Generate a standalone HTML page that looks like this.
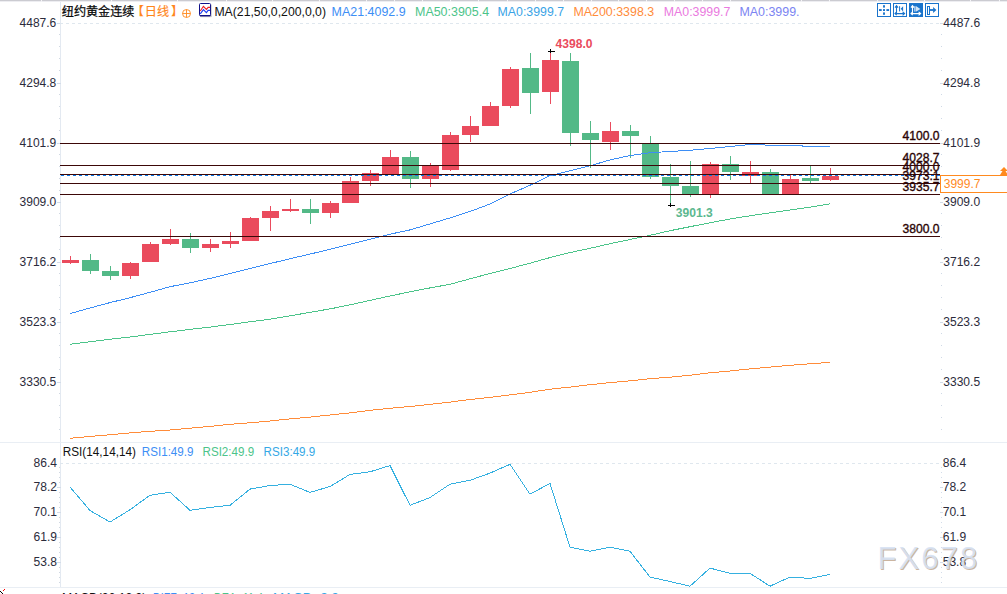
<!DOCTYPE html><html><head><meta charset="utf-8"><title>chart</title><style>html,body{margin:0;padding:0;background:#fff;overflow:hidden}body{width:1007px;height:594px}</style></head><body><svg width="1007" height="594" viewBox="0 0 1007 594" style="display:block;font-family:'Liberation Sans',sans-serif">
<rect width="1007" height="594" fill="#fff"/>
<g shape-rendering="crispEdges">
<rect x="0" y="0" width="1007" height="1" fill="#cbcbd1"/>
<rect x="0" y="1" width="1007" height="1" fill="#ededf1"/>
<rect x="41" y="0" width="1" height="2" fill="#f4f4f7"/>
<rect x="111" y="0" width="1" height="2" fill="#f4f4f7"/>
<rect x="177" y="0" width="1" height="2" fill="#f4f4f7"/>
<rect x="226" y="0" width="1" height="2" fill="#f4f4f7"/>
<rect x="272" y="0" width="1" height="2" fill="#f4f4f7"/>
<rect x="319" y="0" width="1" height="2" fill="#f4f4f7"/>
<rect x="366" y="0" width="1" height="2" fill="#f4f4f7"/>
<rect x="394" y="0" width="1" height="2" fill="#f4f4f7"/>
<rect x="422" y="0" width="1" height="2" fill="#f4f4f7"/>
<rect x="450" y="0" width="1" height="2" fill="#f4f4f7"/>
<rect x="478" y="0" width="1" height="2" fill="#f4f4f7"/>
<rect x="507" y="0" width="1" height="2" fill="#f4f4f7"/>
<rect x="535" y="0" width="1" height="2" fill="#f4f4f7"/>
<rect x="563" y="0" width="1" height="2" fill="#f4f4f7"/>
<rect x="591" y="0" width="1" height="2" fill="#f4f4f7"/>
<rect x="618" y="0" width="1" height="2" fill="#f4f4f7"/>
<rect x="646" y="0" width="1" height="2" fill="#f4f4f7"/>
<rect x="674" y="0" width="1" height="2" fill="#f4f4f7"/>
<rect x="702" y="0" width="1" height="2" fill="#f4f4f7"/>
<rect x="730" y="0" width="1" height="2" fill="#f4f4f7"/>
<rect x="801" y="0" width="1" height="2" fill="#f4f4f7"/>
<rect x="829" y="0" width="1" height="2" fill="#f4f4f7"/>
<rect x="877" y="0" width="1" height="2" fill="#f4f4f7"/>
<rect x="924" y="0" width="1" height="2" fill="#f4f4f7"/>
<rect x="970" y="0" width="1" height="2" fill="#f4f4f7"/>
<rect x="999" y="0" width="1" height="2" fill="#f4f4f7"/>
<rect x="60" y="2" width="1" height="441" fill="#e3e9f1"/>
<rect x="60" y="443" width="1" height="145" fill="#e3e9f1"/>
<rect x="0" y="442" width="1007" height="1" fill="#e9eef4"/>
<rect x="0" y="587" width="1007" height="1" fill="#e9eef4"/>
<rect x="57" y="23" width="4" height="1" fill="#d3dce8"/>
<rect x="940" y="23" width="3" height="1" fill="#d3dce8"/>
<rect x="59" y="34" width="1" height="1" fill="#d0d8e2"/>
<rect x="941" y="34" width="1" height="1" fill="#cfd9e6"/>
<rect x="59" y="46" width="1" height="1" fill="#d0d8e2"/>
<rect x="941" y="46" width="1" height="1" fill="#cfd9e6"/>
<rect x="59" y="58" width="1" height="1" fill="#d0d8e2"/>
<rect x="941" y="58" width="1" height="1" fill="#cfd9e6"/>
<rect x="59" y="70" width="1" height="1" fill="#d0d8e2"/>
<rect x="941" y="70" width="1" height="1" fill="#cfd9e6"/>
<rect x="57" y="83" width="4" height="1" fill="#d3dce8"/>
<rect x="940" y="83" width="3" height="1" fill="#d3dce8"/>
<rect x="59" y="94" width="1" height="1" fill="#d0d8e2"/>
<rect x="941" y="94" width="1" height="1" fill="#cfd9e6"/>
<rect x="59" y="106" width="1" height="1" fill="#d0d8e2"/>
<rect x="941" y="106" width="1" height="1" fill="#cfd9e6"/>
<rect x="59" y="118" width="1" height="1" fill="#d0d8e2"/>
<rect x="941" y="118" width="1" height="1" fill="#cfd9e6"/>
<rect x="59" y="130" width="1" height="1" fill="#d0d8e2"/>
<rect x="941" y="130" width="1" height="1" fill="#cfd9e6"/>
<rect x="57" y="143" width="4" height="1" fill="#d3dce8"/>
<rect x="940" y="143" width="3" height="1" fill="#d3dce8"/>
<rect x="59" y="154" width="1" height="1" fill="#d0d8e2"/>
<rect x="941" y="154" width="1" height="1" fill="#cfd9e6"/>
<rect x="59" y="166" width="1" height="1" fill="#d0d8e2"/>
<rect x="941" y="166" width="1" height="1" fill="#cfd9e6"/>
<rect x="59" y="178" width="1" height="1" fill="#d0d8e2"/>
<rect x="941" y="178" width="1" height="1" fill="#cfd9e6"/>
<rect x="59" y="190" width="1" height="1" fill="#d0d8e2"/>
<rect x="941" y="190" width="1" height="1" fill="#cfd9e6"/>
<rect x="57" y="202" width="4" height="1" fill="#d3dce8"/>
<rect x="940" y="202" width="3" height="1" fill="#d3dce8"/>
<rect x="59" y="213" width="1" height="1" fill="#d0d8e2"/>
<rect x="941" y="213" width="1" height="1" fill="#cfd9e6"/>
<rect x="59" y="225" width="1" height="1" fill="#d0d8e2"/>
<rect x="941" y="225" width="1" height="1" fill="#cfd9e6"/>
<rect x="59" y="237" width="1" height="1" fill="#d0d8e2"/>
<rect x="941" y="237" width="1" height="1" fill="#cfd9e6"/>
<rect x="59" y="249" width="1" height="1" fill="#d0d8e2"/>
<rect x="941" y="249" width="1" height="1" fill="#cfd9e6"/>
<rect x="57" y="262" width="4" height="1" fill="#d3dce8"/>
<rect x="940" y="262" width="3" height="1" fill="#d3dce8"/>
<rect x="59" y="273" width="1" height="1" fill="#d0d8e2"/>
<rect x="941" y="273" width="1" height="1" fill="#cfd9e6"/>
<rect x="59" y="285" width="1" height="1" fill="#d0d8e2"/>
<rect x="941" y="285" width="1" height="1" fill="#cfd9e6"/>
<rect x="59" y="297" width="1" height="1" fill="#d0d8e2"/>
<rect x="941" y="297" width="1" height="1" fill="#cfd9e6"/>
<rect x="59" y="309" width="1" height="1" fill="#d0d8e2"/>
<rect x="941" y="309" width="1" height="1" fill="#cfd9e6"/>
<rect x="57" y="322" width="4" height="1" fill="#d3dce8"/>
<rect x="940" y="322" width="3" height="1" fill="#d3dce8"/>
<rect x="59" y="333" width="1" height="1" fill="#d0d8e2"/>
<rect x="941" y="333" width="1" height="1" fill="#cfd9e6"/>
<rect x="59" y="345" width="1" height="1" fill="#d0d8e2"/>
<rect x="941" y="345" width="1" height="1" fill="#cfd9e6"/>
<rect x="59" y="357" width="1" height="1" fill="#d0d8e2"/>
<rect x="941" y="357" width="1" height="1" fill="#cfd9e6"/>
<rect x="59" y="369" width="1" height="1" fill="#d0d8e2"/>
<rect x="941" y="369" width="1" height="1" fill="#cfd9e6"/>
<rect x="57" y="382" width="4" height="1" fill="#d3dce8"/>
<rect x="940" y="382" width="3" height="1" fill="#d3dce8"/>
<rect x="59" y="393" width="1" height="1" fill="#d0d8e2"/>
<rect x="941" y="393" width="1" height="1" fill="#cfd9e6"/>
<rect x="59" y="405" width="1" height="1" fill="#d0d8e2"/>
<rect x="941" y="405" width="1" height="1" fill="#cfd9e6"/>
<rect x="59" y="417" width="1" height="1" fill="#d0d8e2"/>
<rect x="941" y="417" width="1" height="1" fill="#cfd9e6"/>
<rect x="59" y="429" width="1" height="1" fill="#d0d8e2"/>
<rect x="941" y="429" width="1" height="1" fill="#cfd9e6"/>
<rect x="59" y="467" width="1" height="1" fill="#d0d8e2"/>
<rect x="941" y="467" width="1" height="1" fill="#d3dce8"/>
<rect x="59" y="472" width="1" height="1" fill="#d0d8e2"/>
<rect x="941" y="472" width="1" height="1" fill="#d3dce8"/>
<rect x="59" y="477" width="1" height="1" fill="#d0d8e2"/>
<rect x="941" y="477" width="1" height="1" fill="#d3dce8"/>
<rect x="59" y="482" width="1" height="1" fill="#d0d8e2"/>
<rect x="941" y="482" width="1" height="1" fill="#d3dce8"/>
<rect x="57" y="487" width="4" height="1" fill="#d3dce8"/>
<rect x="940" y="487" width="3" height="1" fill="#d3dce8"/>
<rect x="59" y="492" width="1" height="1" fill="#d0d8e2"/>
<rect x="941" y="492" width="1" height="1" fill="#d3dce8"/>
<rect x="59" y="497" width="1" height="1" fill="#d0d8e2"/>
<rect x="941" y="497" width="1" height="1" fill="#d3dce8"/>
<rect x="59" y="502" width="1" height="1" fill="#d0d8e2"/>
<rect x="941" y="502" width="1" height="1" fill="#d3dce8"/>
<rect x="59" y="507" width="1" height="1" fill="#d0d8e2"/>
<rect x="941" y="507" width="1" height="1" fill="#d3dce8"/>
<rect x="57" y="512" width="4" height="1" fill="#d3dce8"/>
<rect x="940" y="512" width="3" height="1" fill="#d3dce8"/>
<rect x="59" y="517" width="1" height="1" fill="#d0d8e2"/>
<rect x="941" y="517" width="1" height="1" fill="#d3dce8"/>
<rect x="59" y="522" width="1" height="1" fill="#d0d8e2"/>
<rect x="941" y="522" width="1" height="1" fill="#d3dce8"/>
<rect x="59" y="527" width="1" height="1" fill="#d0d8e2"/>
<rect x="941" y="527" width="1" height="1" fill="#d3dce8"/>
<rect x="59" y="532" width="1" height="1" fill="#d0d8e2"/>
<rect x="941" y="532" width="1" height="1" fill="#d3dce8"/>
<rect x="57" y="537" width="4" height="1" fill="#d3dce8"/>
<rect x="940" y="537" width="3" height="1" fill="#d3dce8"/>
<rect x="59" y="542" width="1" height="1" fill="#d0d8e2"/>
<rect x="941" y="542" width="1" height="1" fill="#d3dce8"/>
<rect x="59" y="547" width="1" height="1" fill="#d0d8e2"/>
<rect x="941" y="547" width="1" height="1" fill="#d3dce8"/>
<rect x="59" y="552" width="1" height="1" fill="#d0d8e2"/>
<rect x="941" y="552" width="1" height="1" fill="#d3dce8"/>
<rect x="59" y="557" width="1" height="1" fill="#d0d8e2"/>
<rect x="941" y="557" width="1" height="1" fill="#d3dce8"/>
<rect x="57" y="562" width="4" height="1" fill="#d3dce8"/>
<rect x="940" y="562" width="3" height="1" fill="#d3dce8"/>
<rect x="59" y="567" width="1" height="1" fill="#d0d8e2"/>
<rect x="941" y="567" width="1" height="1" fill="#d3dce8"/>
<rect x="59" y="572" width="1" height="1" fill="#d0d8e2"/>
<rect x="941" y="572" width="1" height="1" fill="#d3dce8"/>
<rect x="59" y="577" width="1" height="1" fill="#d0d8e2"/>
<rect x="941" y="577" width="1" height="1" fill="#d3dce8"/>
<rect x="59" y="582" width="1" height="1" fill="#d0d8e2"/>
<rect x="941" y="582" width="1" height="1" fill="#d3dce8"/>
</g>
<line x1="60" y1="23.5" x2="940" y2="23.5" stroke="#dfe7ee" stroke-width="1" stroke-dasharray="3 3" shape-rendering="crispEdges"/>
<line x1="60" y1="463.5" x2="940" y2="463.5" stroke="#dfe7ee" stroke-width="1" stroke-dasharray="3 3" shape-rendering="crispEdges"/>
<g shape-rendering="crispEdges">
<rect x="70" y="256" width="1" height="8" fill="#ea4b5d"/>
<rect x="62" y="260" width="17" height="3" fill="#ea4b5d"/>
<rect x="90" y="254" width="1" height="20" fill="#53b987"/>
<rect x="82" y="260" width="17" height="11" fill="#53b987"/>
<rect x="110" y="266" width="1" height="14" fill="#53b987"/>
<rect x="102" y="271" width="17" height="5" fill="#53b987"/>
<rect x="130" y="262" width="1" height="17" fill="#ea4b5d"/>
<rect x="122" y="263" width="17" height="13" fill="#ea4b5d"/>
<rect x="150" y="242" width="1" height="20" fill="#ea4b5d"/>
<rect x="142" y="244" width="17" height="18" fill="#ea4b5d"/>
<rect x="170" y="229" width="1" height="16" fill="#ea4b5d"/>
<rect x="162" y="239" width="17" height="5" fill="#ea4b5d"/>
<rect x="190" y="233" width="1" height="20" fill="#53b987"/>
<rect x="182" y="239" width="17" height="9" fill="#53b987"/>
<rect x="210" y="239" width="1" height="13" fill="#ea4b5d"/>
<rect x="202" y="244" width="17" height="4" fill="#ea4b5d"/>
<rect x="230" y="232" width="1" height="16" fill="#ea4b5d"/>
<rect x="222" y="241" width="17" height="3" fill="#ea4b5d"/>
<rect x="250" y="217" width="1" height="24" fill="#ea4b5d"/>
<rect x="242" y="218" width="17" height="23" fill="#ea4b5d"/>
<rect x="270" y="206" width="1" height="25" fill="#ea4b5d"/>
<rect x="262" y="211" width="17" height="7" fill="#ea4b5d"/>
<rect x="290" y="199" width="1" height="13" fill="#ea4b5d"/>
<rect x="282" y="209" width="17" height="2" fill="#ea4b5d"/>
<rect x="310" y="199" width="1" height="25" fill="#53b987"/>
<rect x="302" y="209" width="17" height="4" fill="#53b987"/>
<rect x="330" y="201" width="1" height="17" fill="#ea4b5d"/>
<rect x="322" y="203" width="17" height="10" fill="#ea4b5d"/>
<rect x="350" y="177" width="1" height="26" fill="#ea4b5d"/>
<rect x="342" y="181" width="17" height="22" fill="#ea4b5d"/>
<rect x="370" y="170" width="1" height="16" fill="#ea4b5d"/>
<rect x="362" y="173" width="17" height="8" fill="#ea4b5d"/>
<rect x="390" y="150" width="1" height="24" fill="#ea4b5d"/>
<rect x="382" y="157" width="17" height="17" fill="#ea4b5d"/>
<rect x="410" y="151" width="1" height="37" fill="#53b987"/>
<rect x="402" y="157" width="17" height="22" fill="#53b987"/>
<rect x="430" y="163" width="1" height="24" fill="#ea4b5d"/>
<rect x="422" y="166" width="17" height="13" fill="#ea4b5d"/>
<rect x="450" y="132" width="1" height="39" fill="#ea4b5d"/>
<rect x="442" y="135" width="17" height="35" fill="#ea4b5d"/>
<rect x="470" y="116" width="1" height="26" fill="#ea4b5d"/>
<rect x="462" y="126" width="17" height="9" fill="#ea4b5d"/>
<rect x="490" y="102" width="1" height="24" fill="#ea4b5d"/>
<rect x="482" y="106" width="17" height="20" fill="#ea4b5d"/>
<rect x="510" y="67" width="1" height="41" fill="#ea4b5d"/>
<rect x="502" y="69" width="17" height="37" fill="#ea4b5d"/>
<rect x="530" y="53" width="1" height="61" fill="#53b987"/>
<rect x="522" y="68" width="17" height="25" fill="#53b987"/>
<rect x="550" y="53" width="1" height="51" fill="#ea4b5d"/>
<rect x="542" y="60" width="17" height="32" fill="#ea4b5d"/>
<rect x="570" y="53" width="1" height="93" fill="#53b987"/>
<rect x="562" y="61" width="17" height="72" fill="#53b987"/>
<rect x="590" y="121" width="1" height="47" fill="#53b987"/>
<rect x="582" y="133" width="17" height="7" fill="#53b987"/>
<rect x="610" y="122" width="1" height="28" fill="#ea4b5d"/>
<rect x="602" y="131" width="17" height="11" fill="#ea4b5d"/>
<rect x="630" y="125" width="1" height="33" fill="#53b987"/>
<rect x="622" y="131" width="17" height="5" fill="#53b987"/>
<rect x="650" y="136" width="1" height="43" fill="#53b987"/>
<rect x="642" y="143" width="17" height="34" fill="#53b987"/>
<rect x="670" y="164" width="1" height="39" fill="#53b987"/>
<rect x="662" y="177" width="17" height="9" fill="#53b987"/>
<rect x="690" y="161" width="1" height="36" fill="#53b987"/>
<rect x="682" y="186" width="17" height="8" fill="#53b987"/>
<rect x="710" y="162" width="1" height="36" fill="#ea4b5d"/>
<rect x="702" y="164" width="17" height="30" fill="#ea4b5d"/>
<rect x="730" y="156" width="1" height="24" fill="#53b987"/>
<rect x="722" y="164" width="17" height="8" fill="#53b987"/>
<rect x="750" y="161" width="1" height="22" fill="#ea4b5d"/>
<rect x="742" y="172" width="17" height="4" fill="#ea4b5d"/>
<rect x="770" y="169" width="1" height="25" fill="#53b987"/>
<rect x="762" y="172" width="17" height="22" fill="#53b987"/>
<rect x="790" y="175" width="1" height="19" fill="#ea4b5d"/>
<rect x="782" y="179" width="17" height="15" fill="#ea4b5d"/>
<rect x="810" y="166" width="1" height="17" fill="#53b987"/>
<rect x="802" y="178" width="17" height="3" fill="#53b987"/>
<rect x="830" y="168" width="1" height="13" fill="#ea4b5d"/>
<rect x="822" y="176" width="17" height="4" fill="#ea4b5d"/>
</g>
<polyline points="70.0,313.6 90.0,308.0 110.0,302.6 130.0,297.7 150.0,292.3 170.0,286.7 190.0,282.8 210.0,278.4 230.0,273.4 250.0,268.5 270.0,263.6 290.0,258.7 310.0,254.1 330.0,249.3 350.0,244.2 370.0,239.2 390.0,234.2 410.0,229.9 430.0,223.9 450.0,217.9 470.0,211.5 490.0,204.0 510.0,194.0 530.0,185.3 550.0,175.7 570.0,170.8 590.0,165.8 610.0,159.9 630.0,155.6 650.0,152.7 670.0,151.5 690.0,150.3 710.0,148.5 730.0,146.5 750.0,144.5 770.0,145.2 790.0,145.7 810.0,146.2 830.0,146.7" fill="none" stroke="#3d8ef5" stroke-width="1" shape-rendering="crispEdges"/>
<polyline points="70.0,344.3 90.0,341.8 110.0,339.2 130.0,337.0 150.0,334.4 170.0,331.8 190.0,329.4 210.0,327.1 230.0,324.5 250.0,321.8 270.0,319.2 290.0,315.9 310.0,312.3 330.0,308.9 350.0,304.9 370.0,300.4 390.0,296.0 410.0,291.8 430.0,287.9 450.0,284.3 470.0,278.8 490.0,273.5 510.0,268.5 530.0,263.2 550.0,257.6 570.0,252.6 590.0,248.3 610.0,243.7 630.0,239.5 650.0,235.3 670.0,230.7 690.0,226.7 710.0,222.8 730.0,219.0 750.0,215.8 770.0,212.8 790.0,210.0 810.0,207.1 830.0,203.9" fill="none" stroke="#4cc48a" stroke-width="1" shape-rendering="crispEdges"/>
<polyline points="70.0,438.3 90.0,436.5 110.0,434.7 130.0,432.9 150.0,431.3 170.0,430.0 190.0,428.2 210.0,426.4 230.0,424.3 250.0,422.8 270.0,421.0 290.0,418.9 310.0,417.1 330.0,415.0 350.0,412.9 370.0,410.3 390.0,408.3 410.0,406.5 430.0,404.4 450.0,402.1 470.0,399.5 490.0,397.4 510.0,394.9 530.0,392.3 550.0,389.2 570.0,387.1 590.0,384.7 610.0,382.6 630.0,380.8 650.0,378.7 670.0,377.2 690.0,375.2 710.0,372.8 730.0,371.0 750.0,368.9 770.0,367.1 790.0,365.3 810.0,363.8 830.0,362.3" fill="none" stroke="#ff8c3a" stroke-width="1" shape-rendering="crispEdges"/>
<g shape-rendering="crispEdges">
<rect x="60" y="143" width="880" height="1" fill="#3c0808"/>
<rect x="60" y="165" width="880" height="1" fill="#3c0808"/>
<rect x="60" y="174" width="880" height="1" fill="#3c0808"/>
<rect x="60" y="183" width="880" height="1" fill="#3c0808"/>
<rect x="60" y="194" width="880" height="1" fill="#3c0808"/>
<rect x="60" y="236" width="880" height="1" fill="#3c0808"/>
<line x1="61" y1="175.5" x2="940" y2="175.5" stroke="#0a7ae8" stroke-width="1" stroke-dasharray="3 3"/>
</g>
<text x="939.5" y="140" font-size="12" fill="#2a0404" stroke="#2a0404" stroke-width="0.35" text-anchor="end" textLength="37" lengthAdjust="spacingAndGlyphs">4100.0</text>
<text x="939.5" y="162" font-size="12" fill="#2a0404" stroke="#2a0404" stroke-width="0.35" text-anchor="end" textLength="37" lengthAdjust="spacingAndGlyphs">4028.7</text>
<text x="939.5" y="171" font-size="12" fill="#2a0404" stroke="#2a0404" stroke-width="0.35" text-anchor="end" textLength="37" lengthAdjust="spacingAndGlyphs">4000.0</text>
<text x="939.5" y="180" font-size="12" fill="#2a0404" stroke="#2a0404" stroke-width="0.35" text-anchor="end" textLength="37" lengthAdjust="spacingAndGlyphs">3973.1</text>
<text x="939.5" y="191" font-size="12" fill="#2a0404" stroke="#2a0404" stroke-width="0.35" text-anchor="end" textLength="37" lengthAdjust="spacingAndGlyphs">3935.7</text>
<text x="939.5" y="233" font-size="12" fill="#2a0404" stroke="#2a0404" stroke-width="0.35" text-anchor="end" textLength="37" lengthAdjust="spacingAndGlyphs">3800.0</text>
<text x="19.5" y="26.9" font-size="12" fill="#2b2b3b" textLength="36.8" lengthAdjust="spacingAndGlyphs">4487.6</text>
<text x="943.3" y="26.9" font-size="12" fill="#2b2b3b" textLength="36.8" lengthAdjust="spacingAndGlyphs">4487.6</text>
<text x="19.5" y="86.9" font-size="12" fill="#2b2b3b" textLength="36.8" lengthAdjust="spacingAndGlyphs">4294.8</text>
<text x="943.3" y="86.9" font-size="12" fill="#2b2b3b" textLength="36.8" lengthAdjust="spacingAndGlyphs">4294.8</text>
<text x="19.5" y="146.9" font-size="12" fill="#2b2b3b" textLength="36.8" lengthAdjust="spacingAndGlyphs">4101.9</text>
<text x="943.3" y="146.9" font-size="12" fill="#2b2b3b" textLength="36.8" lengthAdjust="spacingAndGlyphs">4101.9</text>
<text x="19.5" y="205.9" font-size="12" fill="#2b2b3b" textLength="36.8" lengthAdjust="spacingAndGlyphs">3909.0</text>
<text x="943.3" y="205.9" font-size="12" fill="#2b2b3b" textLength="36.8" lengthAdjust="spacingAndGlyphs">3909.0</text>
<text x="19.5" y="265.9" font-size="12" fill="#2b2b3b" textLength="36.8" lengthAdjust="spacingAndGlyphs">3716.2</text>
<text x="943.3" y="265.9" font-size="12" fill="#2b2b3b" textLength="36.8" lengthAdjust="spacingAndGlyphs">3716.2</text>
<text x="19.5" y="325.9" font-size="12" fill="#2b2b3b" textLength="36.8" lengthAdjust="spacingAndGlyphs">3523.3</text>
<text x="943.3" y="325.9" font-size="12" fill="#2b2b3b" textLength="36.8" lengthAdjust="spacingAndGlyphs">3523.3</text>
<text x="19.5" y="385.9" font-size="12" fill="#2b2b3b" textLength="36.8" lengthAdjust="spacingAndGlyphs">3330.5</text>
<text x="943.3" y="385.9" font-size="12" fill="#2b2b3b" textLength="36.8" lengthAdjust="spacingAndGlyphs">3330.5</text>
<text x="33.5" y="466.9" font-size="12" fill="#2b2b3b" textLength="23.5" lengthAdjust="spacingAndGlyphs">86.4</text>
<text x="942.7" y="466.9" font-size="12" fill="#2b2b3b" textLength="23.5" lengthAdjust="spacingAndGlyphs">86.4</text>
<text x="33.5" y="490.9" font-size="12" fill="#2b2b3b" textLength="23.5" lengthAdjust="spacingAndGlyphs">78.2</text>
<text x="942.7" y="490.9" font-size="12" fill="#2b2b3b" textLength="23.5" lengthAdjust="spacingAndGlyphs">78.2</text>
<text x="33.5" y="515.9" font-size="12" fill="#2b2b3b" textLength="23.5" lengthAdjust="spacingAndGlyphs">70.1</text>
<text x="942.7" y="515.9" font-size="12" fill="#2b2b3b" textLength="23.5" lengthAdjust="spacingAndGlyphs">70.1</text>
<text x="33.5" y="540.9" font-size="12" fill="#2b2b3b" textLength="23.5" lengthAdjust="spacingAndGlyphs">61.9</text>
<text x="942.7" y="540.9" font-size="12" fill="#2b2b3b" textLength="23.5" lengthAdjust="spacingAndGlyphs">61.9</text>
<text x="33.5" y="565.9" font-size="12" fill="#2b2b3b" textLength="23.5" lengthAdjust="spacingAndGlyphs">53.8</text>
<text x="942.7" y="565.9" font-size="12" fill="#2b2b3b" textLength="23.5" lengthAdjust="spacingAndGlyphs">53.8</text>
<polyline points="70.0,487.0 90.0,510.5 110.0,522.1 130.0,509.7 150.0,495.3 170.0,492.2 190.0,510.3 210.0,507.4 230.0,505.3 250.0,489.1 270.0,485.5 290.0,484.2 310.0,492.4 330.0,486.5 350.0,474.4 370.0,471.8 390.0,465.6 410.0,505.3 430.0,497.6 450.0,484.2 470.0,480.3 490.0,473.1 510.0,464.3 530.0,494.2 550.0,483.4 570.0,547.2 590.0,551.3 610.0,547.2 630.0,551.3 650.0,577.1 670.0,581.5 690.0,586.2 710.0,568.1 730.0,573.3 750.0,573.3 770.0,586.2 790.0,577.0 810.0,578.4 830.0,574.4" fill="none" stroke="#35b0e0" stroke-width="1" shape-rendering="crispEdges"/>
<g shape-rendering="crispEdges" fill="#000"><rect x="548" y="51" width="7" height="1"/><rect x="550" y="49" width="1" height="4"/>
<rect x="668" y="205" width="7" height="1"/><rect x="670" y="203" width="1" height="4"/></g>
<text x="555.5" y="48" font-size="12" font-weight="bold" fill="#ea4b5d" textLength="37" lengthAdjust="spacingAndGlyphs">4398.0</text>
<text x="675.8" y="217" font-size="12" font-weight="bold" fill="#5cb88f" textLength="37" lengthAdjust="spacingAndGlyphs">3901.3</text>
<g shape-rendering="crispEdges"><rect x="940.5" y="175.5" width="70" height="17" fill="#fff" stroke="#ff8a1f" stroke-width="1"/></g>
<text x="943.7" y="188.3" font-size="12" fill="#ff8a1f" textLength="36.8" lengthAdjust="spacingAndGlyphs">3999.7</text>
<path d="M1004 167 L1000 171 L1002.5 171 L1000 175 L1008 175 L1005.5 171 L1008 171 Z" fill="#ff8a1f"/>
<text x="61.8" y="16.35" font-size="12.12" fill="#0a0a0a" stroke="#0a0a0a" stroke-width="0.25" style="font-family:'Liberation Sans','Noto Sans CJK SC',sans-serif">纽约黄金连续</text>
<text x="131.73 144.78 157.03 170.89" y="16.35" font-size="12.12" fill="#ff861a" stroke="#ff861a" stroke-width="0.15" style="font-family:'Liberation Sans','Noto Sans CJK SC',sans-serif">【日线】</text>
<g fill="none" stroke="#ff8a1f" stroke-width="0.9"><circle cx="186.5" cy="13.5" r="4"/><path d="M182.5 13.5 H190.5 M186.5 9.5 V17.5"/></g>
<rect x="199.5" y="3.5" width="11" height="12.3" rx="1" fill="#fff" stroke="#10108a" stroke-width="1"/><rect x="200" y="15" width="10.6" height="1.3" fill="#10108a"/><path d="M211.3 4.5 V16.7 H200.5" stroke="#777" stroke-opacity="0.55" fill="none" stroke-width="0.7"/>
<polyline points="200.3,11 203.4,6.3 206.4,9.5 208.1,7.4 210,7.4" fill="none" stroke="#ee1c24" stroke-width="1.1"/>
<polyline points="200.3,13.8 203.4,9.6 206.4,12.6 208.1,10.4 210,10.4" fill="none" stroke="#1c3cf0" stroke-width="1.1"/>
<text x="214.4" y="15.7" font-size="12.3" font-weight="normal" fill="#111" textLength="111.6" lengthAdjust="spacingAndGlyphs">MA(21,50,0,200,0,0)</text>
<text x="331.6" y="15.7" font-size="12.3" font-weight="normal" fill="#3d8ef5" textLength="74.1" lengthAdjust="spacingAndGlyphs">MA21:4092.9</text>
<text x="415" y="15.7" font-size="12.3" font-weight="normal" fill="#4cc48a" textLength="74.1" lengthAdjust="spacingAndGlyphs">MA50:3905.4</text>
<text x="497.6" y="15.7" font-size="12.3" font-weight="normal" fill="#3aa3e6" textLength="66.4" lengthAdjust="spacingAndGlyphs">MA0:3999.7</text>
<text x="573.4" y="15.7" font-size="12.3" font-weight="normal" fill="#ff8c3a" textLength="80.8" lengthAdjust="spacingAndGlyphs">MA200:3398.3</text>
<text x="663.8" y="15.7" font-size="12.3" font-weight="normal" fill="#ea7ae0" textLength="66.6" lengthAdjust="spacingAndGlyphs">MA0:3999.7</text>
<text x="739.4" y="15.7" font-size="12.3" font-weight="normal" fill="#7b84f2" textLength="60.2" lengthAdjust="spacingAndGlyphs">MA0:3999.</text>
<text x="62.7" y="456.3" font-size="12.3" font-weight="normal" fill="#111" textLength="73.3" lengthAdjust="spacingAndGlyphs">RSI(14,14,14)</text>
<text x="141.8" y="456.3" font-size="12.3" font-weight="normal" fill="#3d8ef5" textLength="51.7" lengthAdjust="spacingAndGlyphs">RSI1:49.9</text>
<text x="202.5" y="456.3" font-size="12.3" font-weight="normal" fill="#4cc48a" textLength="51.7" lengthAdjust="spacingAndGlyphs">RSI2:49.9</text>
<text x="263.6" y="456.3" font-size="12.3" font-weight="normal" fill="#35a8e6" textLength="51.7" lengthAdjust="spacingAndGlyphs">RSI3:49.9</text>
<text x="62" y="601.5" font-size="12.3" font-weight="normal" fill="#111" textLength="84.4" lengthAdjust="spacingAndGlyphs">MACD(26,12,9)</text>
<text x="153" y="601.5" font-size="12.3" font-weight="normal" fill="#3d8ef5" textLength="51" lengthAdjust="spacingAndGlyphs">DIFF:-13.4</text>
<text x="214" y="601.5" font-size="12.3" font-weight="normal" fill="#4cc48a" textLength="49" lengthAdjust="spacingAndGlyphs">DEA:-11.4</text>
<text x="273" y="601.5" font-size="12.3" font-weight="normal" fill="#35a8e6" textLength="66" lengthAdjust="spacingAndGlyphs">MACD:-3.9</text>
<g shape-rendering="crispEdges">
<rect x="877.5" y="3.5" width="13" height="13" fill="#fff" stroke="#1a74cc" stroke-width="1"/>
<rect x="893.5" y="3.5" width="13" height="13" fill="#fff" stroke="#1a74cc" stroke-width="1"/>
<rect x="925.5" y="3.5" width="13" height="13" fill="#fff" stroke="#1a74cc" stroke-width="1"/>
<rect x="909" y="3" width="14" height="14" fill="#1a74cc"/>
</g>
<g fill="#1a74cc"><rect x="879" y="9.1" width="2.7" height="1.9"/><rect x="886.4" y="9.1" width="2.7" height="1.9"/><rect x="883" y="9.1" width="2" height="1.9"/><rect x="883.05" y="5.2" width="1.9" height="2.4"/><rect x="883.05" y="12.4" width="1.9" height="2.4"/></g>
<g fill="none" stroke="#1a74cc" stroke-width="1.1"><path d="M896.5 5.6 V13.5 M895 7.6 L896.5 5.6 L898 7.6 M895 13.6 H904.6 M902.6 11.9 L904.6 13.6 L902.6 15.3 M896.7 12 L895 13.6 L896.7 15.2"/></g>
<rect x="899.1" y="6.2" width="1" height="5.2" fill="#1a74cc"/><path d="M900.7 8.8 L903.1 6.2 V11.4 Z" fill="#1a74cc"/>
<g fill="none" stroke="#fff" stroke-width="1.1"><path d="M912.5 5.6 V13.5 M911 7.6 L912.5 5.6 L914 7.6 M911 13.6 H920.6 M918.6 11.9 L920.6 13.6 L918.6 15.3 M912.7 12 L911 13.6 L912.7 15.2"/></g>
<rect x="914.4" y="6.2" width="1" height="5.4" fill="#fff"/><path d="M915.9 6.1 L920.4 9 L915.9 11.8 Z" fill="#fff" fill-opacity="0.8"/>
<g shape-rendering="crispEdges" fill="#1a74cc"><rect x="927" y="6" width="1" height="9"/><rect x="929" y="6" width="1" height="9"/><rect x="927" y="6" width="3" height="1"/><rect x="927" y="14" width="3" height="1"/></g><rect x="930" y="9.1" width="3.6" height="1.8" fill="#1a74cc"/><path d="M933.1 7 L936.4 10 L933.1 13 Z" fill="#1a74cc"/>
<text x="877.6" y="568.6" font-size="30.9" fill="#a8845f" fill-opacity="0.6" textLength="99.5" lengthAdjust="spacing" transform="translate(1,1)">FX678</text>
<text x="877.6" y="568.6" font-size="30.9" fill="#d7e2f3" fill-opacity="0.93" textLength="99.5" lengthAdjust="spacing">FX678</text>
<g shape-rendering="crispEdges"><rect x="0" y="591" width="1" height="1" fill="#000"/><rect x="1" y="592" width="1" height="1" fill="#000"/><rect x="2" y="593" width="1" height="1" fill="#000"/><rect x="3" y="590" width="1" height="1" fill="#f00"/><rect x="4" y="589" width="1" height="1" fill="#f00"/></g>
</svg></body></html>
